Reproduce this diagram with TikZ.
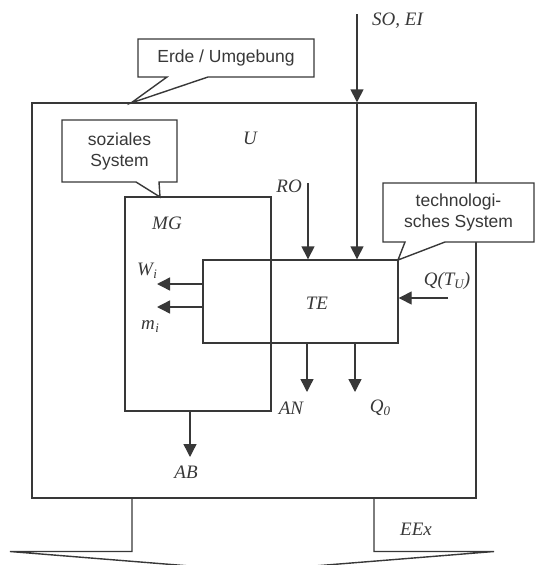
\documentclass[tikz,border=0pt]{standalone}
\usepackage{fontspec}
\setmainfont{Liberation Serif}
\newfontfamily\calloutfont{Liberation Sans}
\usetikzlibrary{arrows.meta}
\definecolor{ink}{gray}{0.22}
\tikzset{
  ln/.style={draw=ink, line width=1.4pt},
  arr/.style={ln, -{Triangle[length=13pt,width=13pt]}},
  boxnode/.style={ln, rectangle, inner sep=0pt},
  lbl/.style={text=ink, font=\fontsize{19}{22}\selectfont\itshape, inner sep=0pt},
  calltext/.style={text=ink, font=\calloutfont\fontsize{17.5}{21}\selectfont, align=center, inner sep=0pt},
  callout/.style={ln, fill=white, line join=miter},
}
\begin{document}
\begin{tikzpicture}[x=1pt,y=-1pt]
\useasboundingbox (0,0) rectangle (536,565);
\begin{scope}
\clip (0,0) rectangle (536,565);
% outer box (Erde / Umgebung)
\node[boxnode, minimum width=444pt, minimum height=395pt] (outer) at (254,300.5) {};
% social system box
\node[boxnode, minimum width=146pt, minimum height=214pt] (mg) at (198,304) {};
% technology box
\node[boxnode, minimum width=195pt, minimum height=83pt] (te) at (300.5,301.5) {};

% named coordinates
\coordinate (soeiTop) at (357,14);
\coordinate (roTop) at (308,183);
\coordinate (wiEnd) at (157,284);
\coordinate (miEnd) at (157,307);
\coordinate (qtStart) at (448,298);
\coordinate (anEnd) at (307,392);
\coordinate (qoEnd) at (355,392);
\coordinate (abEnd) at (190,457);

% SO, EI
\draw[arr] (soeiTop) -- (soeiTop |- outer.north);
\draw[arr] (soeiTop |- outer.north) -- (soeiTop |- te.north);
\node[lbl, anchor=west] (soei) at (372,21) {SO, EI};
% RO
\draw[arr] (roTop) -- (roTop |- te.north);
\node[lbl, anchor=east] (ro) at (302,186) {RO};
% outputs left
\draw[arr] (te.west |- wiEnd) -- (wiEnd);
\draw[arr] (te.west |- miEnd) -- (miEnd);
\node[lbl] (wi) at (147,271) {W\kern0.5pt\raisebox{-3pt}{\fontsize{13}{15}\selectfont i}};
\node[lbl] (mi) at (150,327) {m\kern0.5pt\raisebox{-3pt}{\fontsize{13}{15}\selectfont i}};
% Q(T_U)
\draw[arr] (qtStart) -- (te.east |- qtStart);
\node[lbl] (qt) at (447,281) {Q(T\raisebox{-3pt}{\fontsize{13}{15}\selectfont U})};
% outputs bottom
\draw[arr] (anEnd |- te.south) -- (anEnd);
\draw[arr] (qoEnd |- te.south) -- (qoEnd);
\node[lbl] (an) at (291,408) {AN};
\node[lbl] (qo) at (380,408) {Q\raisebox{-3pt}{\fontsize{13}{15}\selectfont 0}};
\draw[arr] (abEnd |- mg.south) -- (abEnd);
\node[lbl] (ab) at (186,472) {AB};
% other labels
\node[lbl] (u) at (250,138) {U};
\node[lbl] (mglbl) at (167,223) {MG};
\node[lbl] (telbl) at (317,303) {TE};
\node[lbl] (eex) at (416,529) {EEx};

% callouts
\draw[callout] (138,39) -- (314,39) -- (314,77) -- (208,77) -- (131,103) -- (167,77) -- (138,77) -- cycle;
\node[calltext] (erde) at (226,58) {Erde / Umgebung};
\draw[callout] (62,120) -- (177,120) -- (177,182) -- (159,182) -- (160,197) -- (136,182) -- (62,182) -- cycle;
\node[calltext] (sozial) at (119.5,151) {soziales\\System};
\draw[callout] (383,183) -- (534,183) -- (534,242) -- (445,242) -- (398,260) -- (405,242) -- (383,242) -- cycle;
\node[calltext] (tech) at (458.5,212) {technologi-\\sches System};

% big output arrow at bottom
\coordinate (bl) at (132,498);
\coordinate (br) at (374,498);
\draw[ln, line join=miter] (bl) -- (132,551.5) -- (10,551.5) -- (252,571) -- (494,551.5) -- (374,551.5) -- (br);
\end{scope}
\end{tikzpicture}
\end{document}
